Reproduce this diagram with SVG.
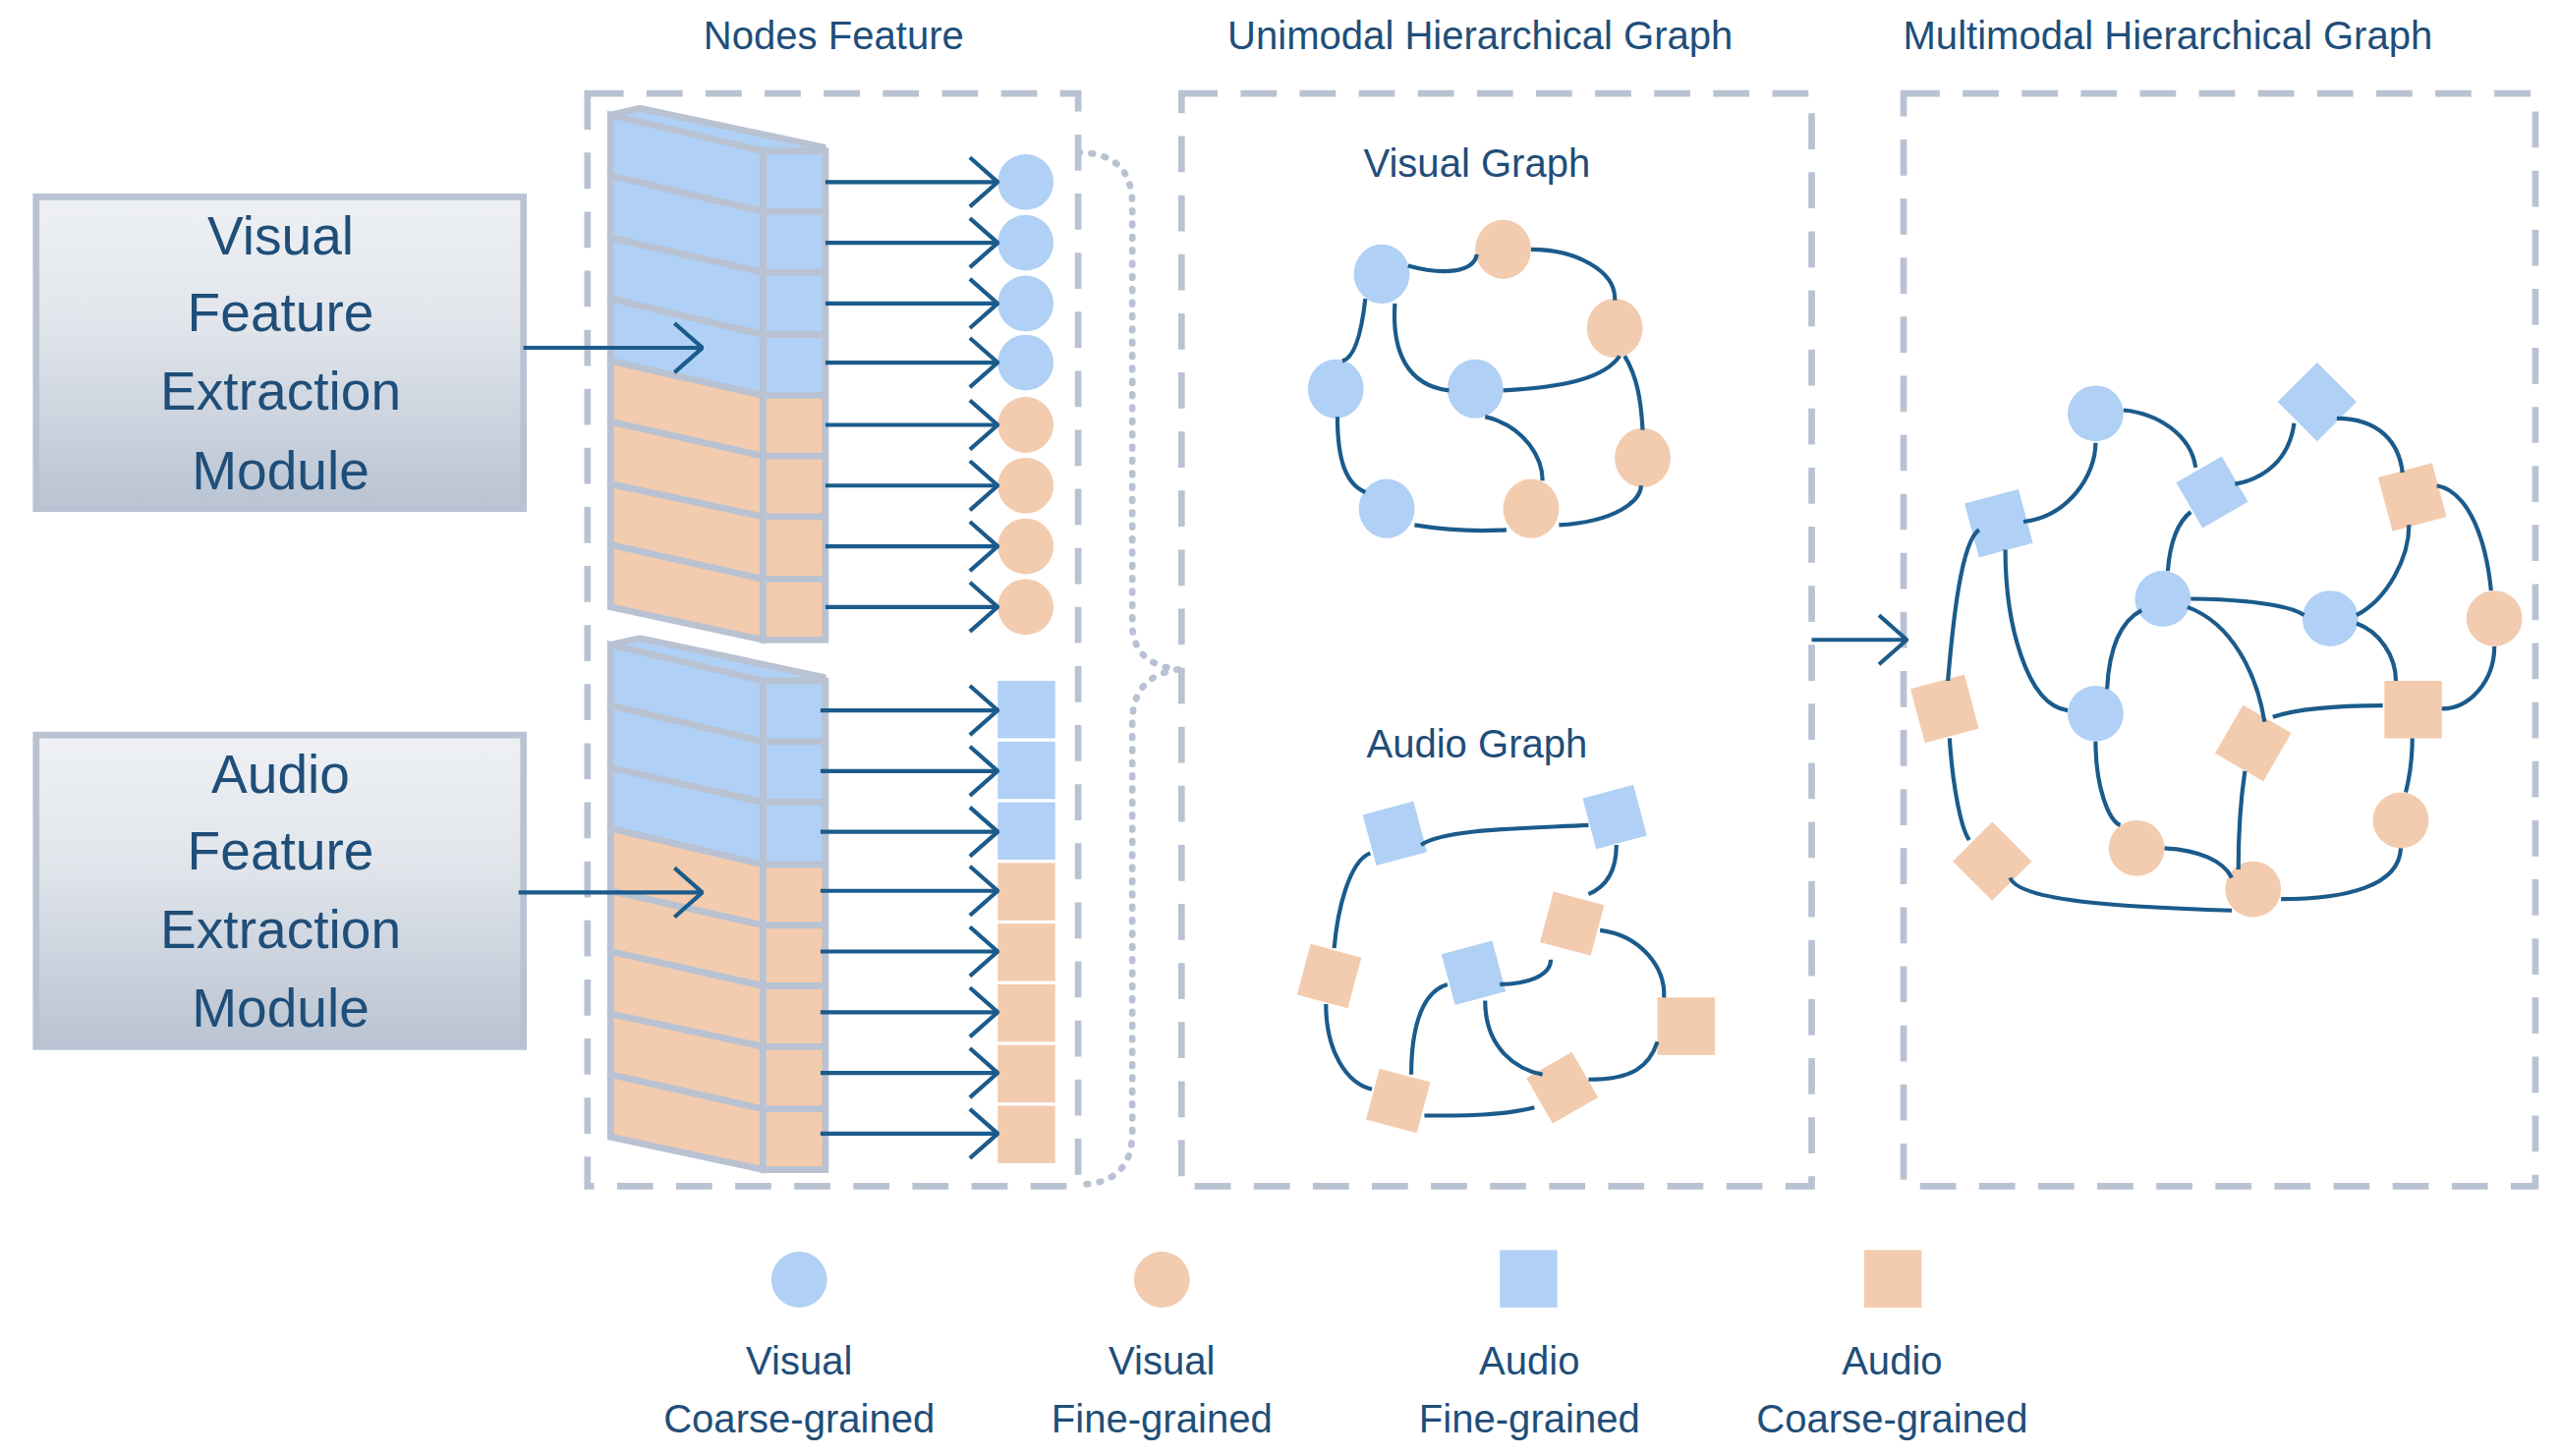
<svg xmlns="http://www.w3.org/2000/svg" width="2605" height="1482" viewBox="0 0 2605 1482">
<defs>
<linearGradient id="mg" x1="0" y1="0" x2="0" y2="1"><stop offset="0" stop-color="#eef0f4"/><stop offset="0.4" stop-color="#e2e6ec"/><stop offset="1" stop-color="#b9c3d2"/></linearGradient>
<marker id="ah" markerUnits="userSpaceOnUse" viewBox="0 0 20 32" markerWidth="20" markerHeight="32" refX="19" refY="16" orient="auto"><path d="M2,1 L19,16 L2,31" fill="none" stroke="#1b5b8b" stroke-width="2.5"/></marker>
<style>
.t{font-family:"Liberation Sans",Arial,sans-serif;fill:#1f4e79;text-anchor:middle}
.box{fill:none;stroke:#b8c2d2;stroke-width:4;stroke-dasharray:22,14}
.ar{stroke:#1b5b8b;stroke-width:2.5;fill:none;marker-end:url(#ah)}
.e{stroke:#1b5b8b;stroke-width:2.5;fill:none}
.b{fill:#b0d0f5}.o{fill:#f3cbae}
.cb{fill:#b0d0f5;stroke:#b8c2d2;stroke-width:4}.co{fill:#f3cbae;stroke:#b8c2d2;stroke-width:4}
</style>
</defs>
<rect width="2605" height="1482" fill="#fff"/>
<g transform="scale(1.66987)">
<g id="titles">
<text class="t" x="508" y="30" font-size="24">Nodes Feature</text>
<text class="t" x="902" y="30" font-size="24">Unimodal Hierarchical Graph</text>
<text class="t" x="1321" y="30" font-size="24">Multimodal Hierarchical Graph</text>
</g>
<g id="frames">
<rect class="box" x="358" y="57" width="299" height="666"/>
<rect class="box" x="720" y="57" width="384" height="666"/>
<rect class="box" x="1160" y="57" width="385" height="666"/>
<path d="M657,93 Q690,93 690,125 L690,380 Q690,405 718,408 Q690,412 690,440 L690,690 Q690,722 657,722" fill="none" stroke="#b8c2d2" stroke-width="4" stroke-dasharray="1,7" stroke-linecap="round"/>
</g>
<g id="visual-module">
<rect x="22" y="120" width="297" height="190" fill="url(#mg)" stroke="#b8c2d2" stroke-width="4"/>
<text class="t" font-size="33"><tspan x="171" y="155">Visual</tspan><tspan x="171" y="202">Feature</tspan><tspan x="171" y="250">Extraction</tspan><tspan x="171" y="298">Module</tspan></text>
</g>
<g id="audio-module">
<rect x="22" y="448" width="297" height="190" fill="url(#mg)" stroke="#b8c2d2" stroke-width="4"/>
<text class="t" font-size="33"><tspan x="171" y="483">Audio</tspan><tspan x="171" y="530">Feature</tspan><tspan x="171" y="578">Extraction</tspan><tspan x="171" y="626">Module</tspan></text>
</g>
<g id="visual-stack">
<polygon points="372,70 390,66 503,90 465,95" fill="#b0d0f5" stroke="#b8c2d2" stroke-width="4"/>
<polygon class="cb" points="372,70 465,92 465,129 372,107"/>
<polygon class="cb" points="372,107 465,129 465,166 372,145"/>
<polygon class="cb" points="372,145 465,166 465,204 372,182"/>
<polygon class="cb" points="372,182 465,204 465,241 372,220"/>
<polygon class="co" points="372,220 465,241 465,278 372,257"/>
<polygon class="co" points="372,257 465,278 465,315 372,295"/>
<polygon class="co" points="372,295 465,315 465,353 372,332"/>
<polygon class="co" points="372,332 465,353 465,390 372,370"/>
<rect class="cb" x="465" y="92" width="38" height="37"/><rect class="cb" x="465" y="129" width="38" height="37"/><rect class="cb" x="465" y="166" width="38" height="38"/><rect class="cb" x="465" y="204" width="38" height="37"/>
<rect class="co" x="465" y="241" width="38" height="37"/><rect class="co" x="465" y="278" width="38" height="37"/><rect class="co" x="465" y="315" width="38" height="38"/><rect class="co" x="465" y="353" width="38" height="37"/>
</g>
<g id="audio-stack">
<polygon points="372,393 390,389 503,413 465,418" fill="#b0d0f5" stroke="#b8c2d2" stroke-width="4"/>
<polygon class="cb" points="372,393 465,415 465,452 372,430"/>
<polygon class="cb" points="372,430 465,452 465,489 372,468"/>
<polygon class="cb" points="372,468 465,489 465,527 372,505"/>
<polygon class="co" points="372,505 465,527 465,564 372,543"/>
<polygon class="co" points="372,543 465,564 465,601 372,580"/>
<polygon class="co" points="372,580 465,601 465,638 372,618"/>
<polygon class="co" points="372,618 465,638 465,676 372,655"/>
<polygon class="co" points="372,655 465,676 465,713 372,693"/>
<rect class="cb" x="465" y="415" width="38" height="37"/><rect class="cb" x="465" y="452" width="38" height="37"/><rect class="cb" x="465" y="489" width="38" height="38"/>
<rect class="co" x="465" y="527" width="38" height="37"/><rect class="co" x="465" y="564" width="38" height="37"/><rect class="co" x="465" y="601" width="38" height="37"/><rect class="co" x="465" y="638" width="38" height="38"/><rect class="co" x="465" y="676" width="38" height="37"/>
</g>
<g id="visual-nodes">
<circle class="b" cx="625" cy="111" r="17"/><circle class="b" cx="625" cy="148" r="17"/><circle class="b" cx="625" cy="185" r="17"/><circle class="b" cx="625" cy="221" r="17"/>
<circle class="o" cx="625" cy="259" r="17"/><circle class="o" cx="625" cy="296" r="17"/><circle class="o" cx="625" cy="333" r="17"/><circle class="o" cx="625" cy="370" r="17"/>
</g>
<g id="audio-nodes">
<rect class="b" x="608" y="415" width="35" height="35"/><rect class="b" x="608" y="452" width="35" height="35"/><rect class="b" x="608" y="489" width="35" height="35"/>
<rect class="o" x="608" y="526" width="35" height="35"/><rect class="o" x="608" y="563" width="35" height="35"/><rect class="o" x="608" y="600" width="35" height="35"/><rect class="o" x="608" y="637" width="35" height="35"/><rect class="o" x="608" y="674" width="35" height="35"/>
</g>
<g id="visual-graph">
<text class="t" x="900" y="108" font-size="24">Visual Graph</text>
<ellipse class="b" cx="842" cy="167" rx="17" ry="18"/><ellipse class="b" cx="814" cy="237" rx="17" ry="18"/><ellipse class="b" cx="899" cy="237" rx="17" ry="18"/><ellipse class="b" cx="845" cy="310" rx="17" ry="18"/>
<ellipse class="o" cx="916" cy="152" rx="17" ry="18"/><ellipse class="o" cx="984" cy="200" rx="17" ry="18"/><ellipse class="o" cx="1001" cy="279" rx="17" ry="18"/><ellipse class="o" cx="933" cy="310" rx="17" ry="18"/>
</g>
<g id="audio-graph">
<text class="t" x="900" y="462" font-size="24">Audio Graph</text>
<rect class="b" x="-16" y="-16" width="32" height="32" transform="translate(850,508) rotate(-15)"/>
<rect class="b" x="-16" y="-16" width="32" height="32" transform="translate(984,498) rotate(-15)"/>
<rect class="b" x="-16" y="-16" width="32" height="32" transform="translate(898,593) rotate(-15)"/>
<rect class="o" x="-16" y="-16" width="32" height="32" transform="translate(810,595) rotate(15)"/>
<rect class="o" x="-16" y="-16" width="32" height="32" transform="translate(958,563) rotate(15)"/>
<rect class="o" x="-17" y="-17" width="35" height="35" transform="translate(1027,625)"/>
<rect class="o" x="-16" y="-16" width="32" height="32" transform="translate(852,671) rotate(15)"/>
<rect class="o" x="-16" y="-16" width="32" height="32" transform="translate(952,663) rotate(-30)"/>
</g>
<g id="multimodal-graph">
<circle class="b" cx="1277" cy="252" r="17"/><circle class="b" cx="1318" cy="365" r="17"/><circle class="b" cx="1420" cy="377" r="17"/><circle class="b" cx="1277" cy="435" r="17"/>
<rect class="b" x="-17" y="-17" width="34" height="34" transform="translate(1412,245) rotate(45)"/>
<rect class="b" x="-16" y="-16" width="32" height="32" transform="translate(1348,300) rotate(-30)"/>
<rect class="b" x="-17" y="-17" width="34" height="34" transform="translate(1218,319) rotate(-15)"/>
<circle class="o" cx="1520" cy="377" r="17"/><circle class="o" cx="1463" cy="500" r="17"/><circle class="o" cx="1302" cy="517" r="17"/><circle class="o" cx="1373" cy="542" r="17"/>
<rect class="o" x="-17" y="-17" width="34" height="34" transform="translate(1470,303) rotate(-15)"/>
<rect class="o" x="-17" y="-17" width="35" height="35" transform="translate(1470,432)"/>
<rect class="o" x="-17" y="-17" width="34" height="34" transform="translate(1373,453) rotate(30)"/>
<rect class="o" x="-17" y="-17" width="34" height="34" transform="translate(1185,432) rotate(-15)"/>
<rect class="o" x="-17" y="-17" width="34" height="34" transform="translate(1214,525) rotate(45)"/>
</g>
<g id="legend">
<circle class="b" cx="487" cy="780" r="17"/><circle class="o" cx="708" cy="780" r="17"/>
<rect class="b" x="914" y="762" width="35" height="35"/><rect class="o" x="1136" y="762" width="35" height="35"/>
<text class="t" font-size="24"><tspan x="487" y="838">Visual</tspan><tspan x="487" y="873">Coarse-grained</tspan></text>
<text class="t" font-size="24"><tspan x="708" y="838">Visual</tspan><tspan x="708" y="873">Fine-grained</tspan></text>
<text class="t" font-size="24"><tspan x="932" y="838">Audio</tspan><tspan x="932" y="873">Fine-grained</tspan></text>
<text class="t" font-size="24"><tspan x="1153" y="838">Audio</tspan><tspan x="1153" y="873">Coarse-grained</tspan></text>
</g>
<g id="connectors">
<path class="ar" d="M319,212 L428,212"/>
<path class="ar" d="M316,544 L428,544"/>
<path class="ar" d="M503,111 L608,111"/><path class="ar" d="M503,148 L608,148"/><path class="ar" d="M503,185 L608,185"/><path class="ar" d="M503,221 L608,221"/>
<path class="ar" d="M503,259 L608,259"/><path class="ar" d="M503,296 L608,296"/><path class="ar" d="M503,333 L608,333"/><path class="ar" d="M503,370 L608,370"/>
<path class="ar" d="M500,433 L608,433"/><path class="ar" d="M500,470 L608,470"/><path class="ar" d="M500,507 L608,507"/><path class="ar" d="M500,543 L608,543"/>
<path class="ar" d="M500,580 L608,580"/><path class="ar" d="M500,617 L608,617"/><path class="ar" d="M500,654 L608,654"/><path class="ar" d="M500,691 L608,691"/>
<path class="ar" d="M1104,390 L1162,390"/>
<path class="e" d="M858,162 C880,168 898,166 900,155"/>
<path class="e" d="M933,152 C960,152 985,165 984,183"/>
<path class="e" d="M832,182 C830,200 826,218 818,220"/>
<path class="e" d="M850,185 C848,215 858,235 883,238"/>
<path class="e" d="M916,238 C955,236 978,230 987,217"/>
<path class="e" d="M990,217 C998,230 1000,245 1001,262"/>
<path class="e" d="M815,254 C815,280 820,295 832,300"/>
<path class="e" d="M905,254 C930,260 940,280 940,293"/>
<path class="e" d="M862,320 C880,323 900,324 918,323"/>
<path class="e" d="M950,320 C985,318 1000,305 1000,296"/>
<path class="e" d="M866,515 C880,505 930,505 968,503"/>
<path class="e" d="M985,515 C985,530 980,540 968,545"/>
<path class="e" d="M835,520 C822,525 815,555 813,578"/>
<path class="e" d="M808,612 C808,640 820,660 836,664"/>
<path class="e" d="M914,600 C930,600 945,595 945,585"/>
<path class="e" d="M975,567 C1000,570 1015,590 1014,608"/>
<path class="e" d="M882,600 C865,605 860,630 860,655"/>
<path class="e" d="M905,610 C905,640 925,652 940,655"/>
<path class="e" d="M868,680 C895,680 915,680 935,675"/>
<path class="e" d="M968,658 C995,658 1005,650 1010,635"/>
<path class="e" d="M1233,318 C1260,315 1277,290 1277,270"/>
<path class="e" d="M1294,250 C1315,252 1335,265 1338,285"/>
<path class="e" d="M1362,295 C1380,292 1395,280 1398,258"/>
<path class="e" d="M1424,255 C1450,255 1462,270 1464,288"/>
<path class="e" d="M1335,312 C1325,320 1322,335 1321,348"/>
<path class="e" d="M1335,365 C1360,365 1395,368 1404,375"/>
<path class="e" d="M1436,375 C1455,365 1468,340 1468,320"/>
<path class="e" d="M1485,296 C1505,300 1515,330 1518,360"/>
<path class="e" d="M1520,394 C1520,415 1505,432 1488,432"/>
<path class="e" d="M1436,380 C1450,385 1460,400 1460,415"/>
<path class="e" d="M1333,370 C1360,380 1375,410 1380,440"/>
<path class="e" d="M1385,437 C1400,432 1425,430 1452,430"/>
<path class="e" d="M1305,372 C1290,380 1285,400 1284,420"/>
<path class="e" d="M1222,335 C1222,380 1235,430 1260,433"/>
<path class="e" d="M1206,323 C1195,330 1190,380 1187,415"/>
<path class="e" d="M1188,450 C1190,480 1195,505 1200,512"/>
<path class="e" d="M1277,452 C1277,480 1285,500 1292,503"/>
<path class="e" d="M1368,470 C1365,490 1364,515 1364,530"/>
<path class="e" d="M1319,517 C1340,518 1355,525 1360,535"/>
<path class="e" d="M1470,450 C1470,465 1468,475 1466,483"/>
<path class="e" d="M1463,517 C1462,540 1430,548 1390,548"/>
<path class="e" d="M1225,535 C1230,550 1300,553 1360,555"/>
</g>
</g>
</svg>
